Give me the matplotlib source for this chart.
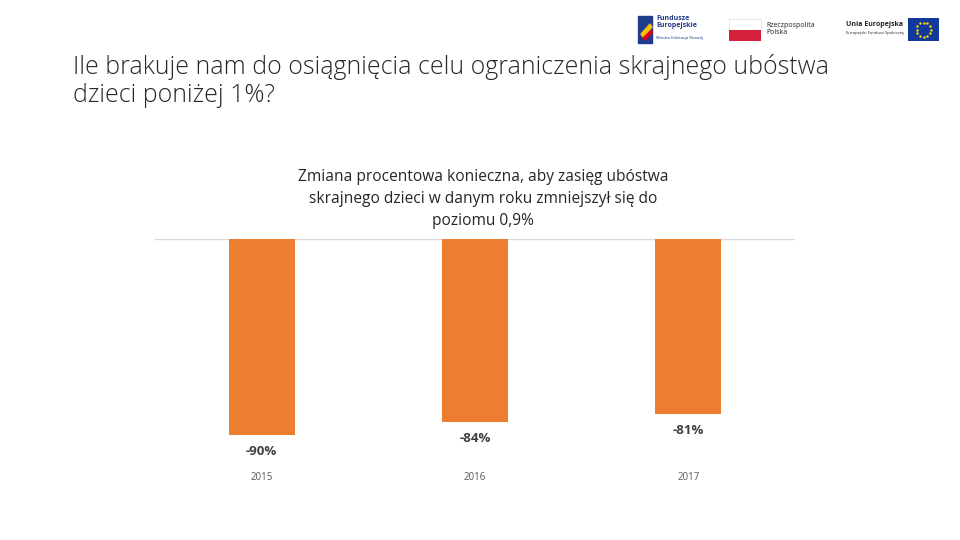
import matplotlib
matplotlib.use("Agg")
import matplotlib.pyplot as plt
from matplotlib.patches import Rectangle, Polygon
import numpy as np

years = ["2015", "2016", "2017"]
values = [-90, -84, -80.5]
value_labels = ["-90%", "-84%", "-81%"]

orange = "#ED7D31"
dark = "#404040"

plt.rcParams['font.family'] = ['Open Sans', 'DejaVu Sans']

fig = plt.figure(figsize=(9.6, 5.4), dpi=100)
W, H = 960, 540


def fx(px):
    return px / W


def fy(py):
    return 1 - py / H


# slide title
fig.text(fx(73), fy(67), "Ile brakuje nam do osiągnięcia celu ograniczenia skrajnego ubóstwa",
         fontsize=17.9, color="#262626", va="center", ha="left", fontweight="light")
fig.text(fx(73), fy(96), "dzieci poniżej 1%?",
         fontsize=17.9, color="#262626", va="center", ha="left", fontweight="light")

# logos (decoration)
fig.patches.append(Polygon([(fx(638), fy(16)), (fx(652), fy(16)), (fx(652), fy(43)), (fx(638), fy(43))],
                           closed=True, transform=fig.transFigure, color="#1F3B8C"))
fig.patches.append(Polygon([(fx(641), fy(34)), (fx(650), fy(24)), (fx(652), fy(27)), (fx(643), fy(37))],
                           closed=True, transform=fig.transFigure, color="#F5C400"))
fig.patches.append(Polygon([(fx(643), fy(38)), (fx(652), fy(30)), (fx(652), fy(33)), (fx(645), fy(40))],
                           closed=True, transform=fig.transFigure, color="#E3001B"))
fig.text(fx(656), fy(22), "Fundusze\nEuropejskie", fontsize=5, color="#1F3B8C", va="center",
         ha="left", fontweight="bold", linespacing=0.95)
fig.text(fx(656), fy(38), "Wiedza Edukacja Rozwój", fontsize=3, color="#1F3B8C", va="center", ha="left")

fig.patches.append(Rectangle((fx(729), fy(30)), fx(32), 11 / H, transform=fig.transFigure,
                             facecolor="white", edgecolor="#DDDDDD", lw=0.5))
fig.patches.append(Rectangle((fx(729), fy(41)), fx(32), 11 / H, transform=fig.transFigure,
                             facecolor="#D4213D", edgecolor="none"))
fig.text(fx(766), fy(29), "Rzeczpospolita\nPolska", fontsize=5, color="#222222", va="center",
         ha="left", linespacing=0.95)

fig.text(fx(875), fy(24), "Unia Europejska", fontsize=5, color="#222222", va="center",
         ha="center", fontweight="bold")
fig.text(fx(875), fy(33), "Europejski Fundusz Społeczny", fontsize=3, color="#222222", va="center",
         ha="center")
fig.patches.append(Rectangle((fx(908), fy(41)), fx(31), 23 / H, transform=fig.transFigure,
                             facecolor="#123A9C", edgecolor="none"))
ang = np.linspace(0, 2 * np.pi, 12, endpoint=False)
fig.lines.append(plt.Line2D(fx(923.5 + 7 * np.cos(ang)), fy(29.5 + 7 * np.sin(ang)),
                            transform=fig.transFigure, ls="none", marker=".", ms=1.5,
                            color="#FFDD00"))

# chart
ax = fig.add_axes([fx(155), fy(460), fx(640), (460 - 239) / H])
x = np.arange(len(years))
ax.bar(x, values, width=0.31, color=orange, zorder=2)
ax.set_xlim(-0.5, 2.5)
ax.set_ylim(-101.5, 0)
ax.axhline(0, color="#D9D9D9", lw=1, zorder=1)

for i, (v, lab) in enumerate(zip(values, value_labels)):
    ax.annotate(lab, (i, v), xytext=(0, -12), textcoords="offset points", ha="center", va="center",
                fontsize=9.5, fontweight="bold", color=dark)

for s in ax.spines.values():
    s.set_visible(False)
ax.set_yticks([])
ax.set_xticks(x)
ax.set_xticklabels(years, fontsize=7, color="#595959")
ax.tick_params(axis="x", length=0, pad=9)

fig.text(fx(483), fy(199), "Zmiana procentowa konieczna, aby zasięg ubóstwa\nskrajnego dzieci w danym roku zmniejszył się do\npoziomu 0,9%",
         fontsize=11.2, color="#262626", ha="center", va="center", linespacing=1.5)

fig.savefig("out.png", dpi=100)
